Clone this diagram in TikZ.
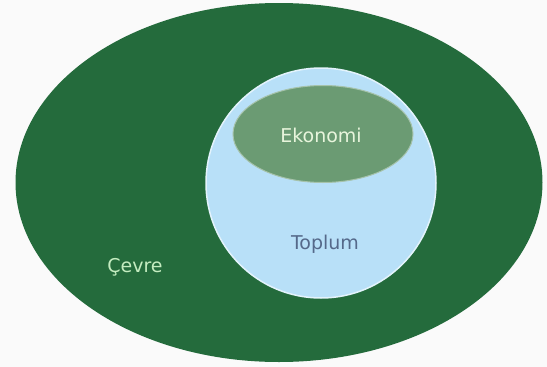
\documentclass[tikz,border=0pt]{standalone}
\usepackage{fontspec}
\setmainfont{DejaVu Sans}
\usetikzlibrary{shapes.geometric}
\definecolor{bgc}{HTML}{FAFAFA}
\definecolor{darkg}{HTML}{246B3C}
\definecolor{lightb}{HTML}{B8E0F8}
\definecolor{ekog}{HTML}{6B9B73}
\definecolor{ekotext}{HTML}{E8F5DC}
\definecolor{toptext}{HTML}{55698A}
\definecolor{cevtext}{HTML}{C4ECC0}
\begin{document}
\begin{tikzpicture}[x=1pt,y=-1pt,
  lbl/.style={font=\fontsize{19}{22}\selectfont, inner sep=0pt}]
\fill[bgc] (0,0) rectangle (547,367);
\useasboundingbox (0,0) rectangle (547,367);
\node[ellipse, fill=darkg, minimum width=527pt, minimum height=359pt, inner sep=0pt] (cevre) at (279,182.5) {};
\node[circle, fill=lightb, draw=lightb!40!white, line width=1.5pt, minimum size=230pt, inner sep=0pt] (toplum) at (321,183) {};
\node[ellipse, fill=ekog, draw=ekog!60!white, line width=1pt, minimum width=180pt, minimum height=97pt, inner sep=0pt] (ekonomi) at (323,134) {};
\node[lbl, text=ekotext] (ekolbl) at (321,135) {Ekonomi};
\node[lbl, text=toptext] (toplbl) at (325,244) {Toplum};
\node[lbl, text=cevtext] (cevlbl) at (135,267) {Çevre};
\end{tikzpicture}
\end{document}
